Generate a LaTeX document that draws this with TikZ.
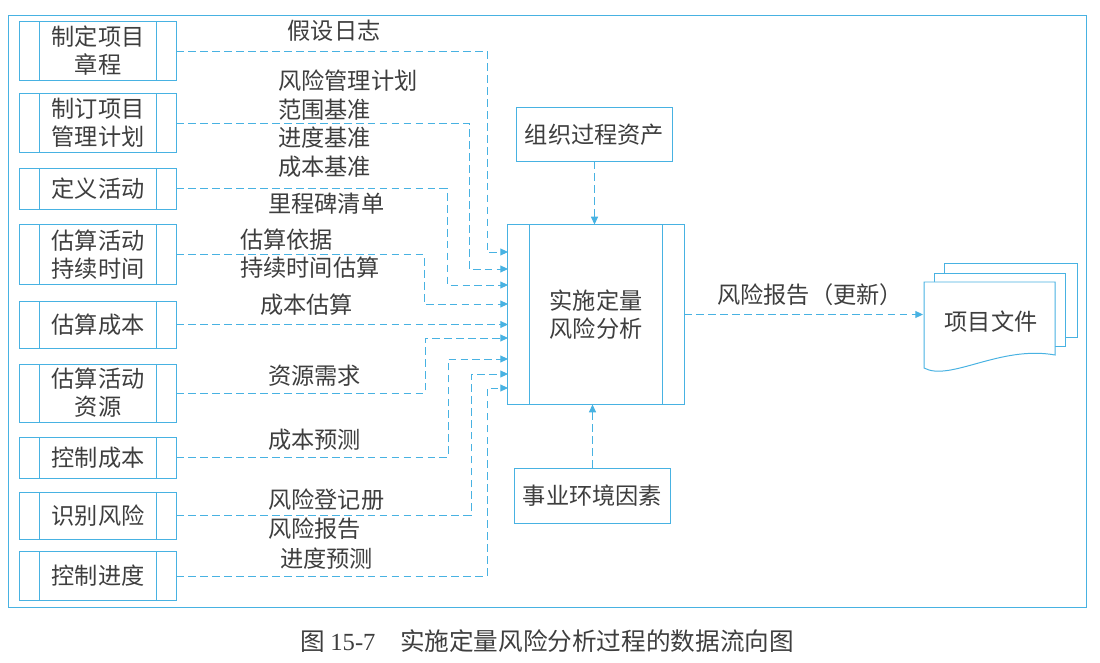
\documentclass[tikz,border=0pt]{standalone}
\usepackage{fontspec}
\setmainfont{Noto Sans CJK SC}
\newfontfamily\capnum{Liberation Serif}
\usetikzlibrary{arrows.meta}

\definecolor{flowblue}{RGB}{72,178,226}
\definecolor{inkgray}{RGB}{62,62,62}

\tikzset{
  sidebar/.style={path picture={
    \draw[flowblue,line width=0.7pt] ([xshift=#1]path picture bounding box.north west) -- ([xshift=#1]path picture bounding box.south west);
    \draw[flowblue,line width=0.7pt] ([xshift=-#1]path picture bounding box.north east) -- ([xshift=-#1]path picture bounding box.south east);}},
  procbox/.style={draw=flowblue,line width=0.7pt,minimum width=3.9cm,text=inkgray,align=center,
    inner sep=0pt,font=\fontsize{16.5}{20}\selectfont,sidebar=0.48cm},
  plainbox/.style={draw=flowblue,line width=0.7pt,minimum width=3.9cm,minimum height=1.35cm,
    text=inkgray,font=\fontsize{16.5}{20}\selectfont},
  flow/.style={flowblue,line width=0.7pt,dash pattern=on 5.5pt off 3pt,
    -{Triangle[length=5.5pt,width=5pt]}},
  lbl/.style={text=inkgray,inner sep=0pt,anchor=west,font=\fontsize{16.5}{20}\selectfont},
}

\begin{document}
\begin{tikzpicture}[x=0.025cm,y=-0.025cm]
\useasboundingbox (0,0) rectangle (1100,663);
\draw[flowblue,line width=0.7pt] (8,15) rectangle (1086,607);

\node[procbox,minimum height=1.45cm] (b1) at (98,51) {制定项目\\章程};
\node[procbox,minimum height=1.45cm] (b2) at (98,123) {制订项目\\管理计划};
\node[procbox,minimum height=1.025cm] (b3) at (98,188.5) {定义活动};
\node[procbox,minimum height=1.475cm] (b4) at (98,254.5) {估算活动\\持续时间};
\node[procbox,minimum height=1.175cm] (b5) at (98,324.5) {估算成本};
\node[procbox,minimum height=1.45cm] (b6) at (98,393) {估算活动\\资源};
\node[procbox,minimum height=1.025cm] (b7) at (98,457.5) {控制成本};
\node[procbox,minimum height=1.175cm] (b8) at (98,515.5) {识别风险};
\node[procbox,minimum height=1.225cm] (b9) at (98,576) {控制进度};

\node[procbox,minimum width=4.4cm,minimum height=4.475cm,sidebar=0.55cm] (qra) at (596,314.5) {实施定量\\风险分析};
\node[plainbox,minimum height=1.325cm] (opa) at (594.5,134.5) {组织过程资产};
\node[plainbox,minimum height=1.375cm] (eef) at (592.5,495.5) {事业环境因素};

\coordinate (in1) at (508,252);
\coordinate (in2) at (508,269);
\coordinate (in3) at (508,285);
\coordinate (in4) at (508,304);
\coordinate (in5) at (508,324.5);
\coordinate (in6) at (508,338);
\coordinate (in7) at (508,359);
\coordinate (in8) at (508,374);
\coordinate (in9) at (508,388);

\coordinate (k1) at (487,252);
\coordinate (k2) at (469,269);
\coordinate (k3) at (447,285);
\coordinate (k4) at (424,304);
\coordinate (k6) at (425,338);
\coordinate (k7) at (448,359);
\coordinate (k8) at (471,374);
\coordinate (k9) at (487,388);

\draw[flow] (b1.east) -| (k1) -- (in1);
\draw[flow] (b2.east) -| (k2) -- (in2);
\draw[flow] (b3.east) -| (k3) -- (in3);
\draw[flow] (b4.east) -| (k4) -- (in4);
\draw[flow] (b5.east) to (in5);
\draw[flow] (b6.east) -| (k6) -- (in6);
\draw[flow] (b7.east) -| (k7) -- (in7);
\draw[flow] (b8.east) -| (k8) -- (in8);
\draw[flow] (b9.east) -| (k9) -- (in9);

\draw[flow] (opa.south) to (opa.south |- qra.north);
\draw[flow] (eef.north) to (eef.north |- qra.south);

\draw[flowblue,line width=0.7pt,fill=white] (944,263) rectangle (1077,337);
\draw[flowblue,line width=0.7pt,fill=white] (934,273) rectangle (1065,346);
\draw[flowblue,line width=0.7pt,fill=white] (924,368) -- (924,282) -- (1055,282) -- (1055,355)
  .. controls (1000,345) and (950,382) .. (924,368) -- cycle;
\node[text=inkgray,font=\fontsize{16.5}{20}\selectfont] (docs) at (991,322) {项目文件};
\coordinate (docin) at (923,314.5);
\draw[flow] (qra.east) to (docin);

\node[lbl,anchor=center] at (334,31) {假设日志};
\node[lbl] at (278,81) {风险管理计划};
\node[lbl] at (278,110) {范围基准};
\node[lbl] at (278,138) {进度基准};
\node[lbl] at (278,167) {成本基准};
\node[lbl] at (268,204) {里程碑清单};
\node[lbl] at (240,240) {估算依据};
\node[lbl] at (240,268) {持续时间估算};
\node[lbl] at (260,305) {成本估算};
\node[lbl] at (268,376) {资源需求};
\node[lbl] at (268,440) {成本预测};
\node[lbl] at (268,500) {风险登记册};
\node[lbl] at (268,529) {风险报告};
\node[lbl] at (280,559) {进度预测};
\node[lbl,anchor=center] at (810,295) {风险报告（更新）};

\node[lbl,font=\fontsize{17.5}{20}\selectfont] (cap) at (300,641) {图 {\capnum 15-7}\quad 实施定量风险分析过程的数据流向图};
\end{tikzpicture}
\end{document}
